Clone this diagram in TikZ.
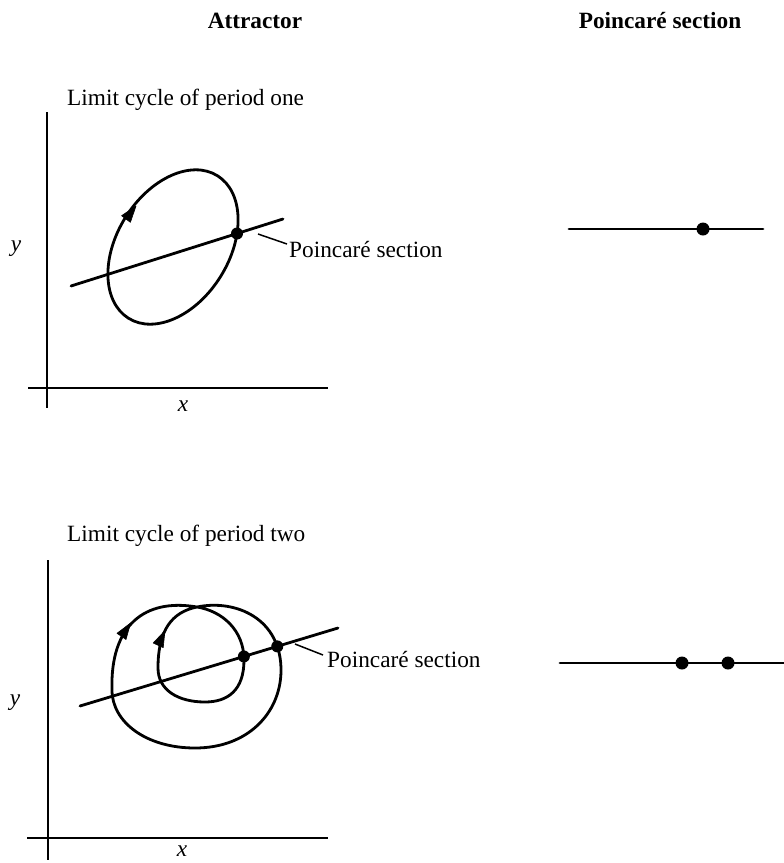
\documentclass[tikz,border=0pt]{standalone}
\usepackage{fontspec}
\setmainfont{Liberation Serif}
\usetikzlibrary{arrows.meta,intersections}
\tikzset{
  curve/.style={line width=2.8pt, line cap=round, line join=round},
  axis/.style={line width=2.6pt},
  leader/.style={line width=1.5pt},
  sdot/.style={circle, fill=black, inner sep=0pt, minimum size=12pt},
  pdot/.style={circle, fill=black, inner sep=0pt, minimum size=13pt},
  txt/.style={inner sep=0pt, font=\fontsize{23.3}{28}\selectfont},
  head/.style={inner sep=0pt, font=\fontsize{23.3}{28}\selectfont\bfseries},
  lbl/.style={inner sep=0pt, font=\fontsize{23.3}{28}\selectfont\itshape},
  arrowhead/.style={fill=black, line join=round, draw=black, line width=0.6pt}
}
\begin{document}
\begin{tikzpicture}[x=1pt,y=-1pt]
\useasboundingbox (0,0) rectangle (784,863);
% headers
\node[head, anchor=base] (hA) at (255,28) {Attractor};
\node[head, anchor=base] (hP) at (660,28) {Poincaré section};

% ---------- top panel ----------
\node[txt, anchor=base west] (t1) at (67,105) {Limit cycle of period one};
\draw[axis] (47,112) -- (47,408);
\draw[axis] (28,388) -- (328,388);
\node[lbl] (y1) at (16,249) {y};
\node[lbl] (x1) at (183,406) {x};
\draw[curve, name path=ell] (173,247) [rotate around={58:(173,247)}] ellipse [x radius=84pt, y radius=56pt];
\draw[curve, name path=sec1] (71,286) -- (283,219);
\path[name intersections={of=ell and sec1, sort by=sec1, name=i}];
\node[sdot] (d1) at (i-2) {};
\fill[arrowhead] (136,206) -- (130.4,222.3) -- (121.6,215.7) -- cycle;
\coordinate (l1a) at (258,234);
\coordinate (l1b) at (287,244);
\draw[leader] (l1a) -- (l1b);
\node[txt, anchor=base west] (ps1) at (289,257) {Poincaré section};

% right top
\coordinate (r1a) at (569,229);
\coordinate (r1b) at (763,229);
\draw[curve] (r1a) -- (r1b);
\node[pdot] (p1) at (703,229) {};

% ---------- bottom panel ----------
\node[txt, anchor=base west] (t2) at (67,541) {Limit cycle of period two};
\draw[axis] (48,560) -- (48,860);
\draw[axis] (27,838) -- (328,838);
\node[lbl] (y2) at (15,703) {y};
\node[lbl] (x2) at (182,851) {x};
\coordinate (C) at (197,607);
\draw[curve, name path=loop] (C)
  .. controls (222,611) and (244,630) .. (244,660)
  .. controls (244,690) and (228,702) .. (205,702)
  .. controls (178,702) and (158,690) .. (158,668)
  .. controls (158,630) and (172,612) .. (C)
  .. controls (235,599) and (282,618) .. (281,672)
  .. controls (280,713) and (248,748) .. (195,748)
  .. controls (146,748) and (112,722) .. (112,690)
  .. controls (110,625) and (145,598) .. (C);
\draw[curve, name path=sec2] (80,706) -- (338,628);
\path[name intersections={of=loop and sec2, sort by=sec2, name=j}];
\node[sdot] (d2) at (j-3) {};
\node[sdot] (d3) at (j-4) {};
\fill[arrowhead] (130.6,623) -- (126.0,639.5) -- (117.0,633.3) -- cycle;
\fill[arrowhead] (165,630.5) -- (163.2,647.6) -- (153.2,643.0) -- cycle;
\coordinate (l2a) at (295,644);
\coordinate (l2b) at (323,655);
\draw[leader] (l2a) -- (l2b);
\node[txt, anchor=base west] (ps2) at (327,667) {Poincaré section};

% right bottom
\coordinate (r2a) at (560,663);
\coordinate (r2b) at (784,663);
\draw[curve] (r2a) -- (r2b);
\node[pdot] (p2) at (682,663) {};
\node[pdot] (p3) at (728,663) {};
\end{tikzpicture}
\end{document}
